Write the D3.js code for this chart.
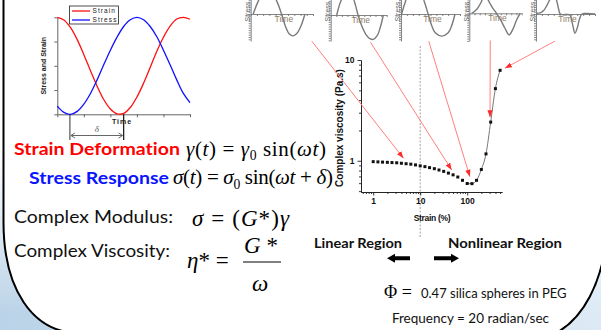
<!DOCTYPE html>
<html><head><meta charset="utf-8">
<script src="https://cdn.jsdelivr.net/npm/d3@7"></script>
<style>html,body{margin:0;padding:0;background:#fff;overflow:hidden} text{font-variant-ligatures:none}</style>
</head><body><svg id="c" width="601" height="330"></svg>
<script>
// ---------- DATA ----------
// inset: oscillatory strain / stress vs time
const insetTime   = [0,0.5,1,1.5,2,2.5,3,3.5,4,4.5,5,5.5,6,6.5,7,7.5,8,8.5,9,9.5,10];
const insetStrain = [1,0.945,0.785,0.54,0.23,-0.1,-0.42,-0.695,-0.89,-0.99,-0.98,-0.86,-0.645,-0.36,-0.035,0.3,0.59,0.82,0.965,0.998,0.96];
const insetStress = [-0.83,-0.96,-1.0,-0.94,-0.79,-0.57,-0.29,0.02,0.32,0.59,0.81,0.95,1.0,0.95,0.81,0.6,0.32,0.02,-0.29,-0.57,-0.76];
const insetYTicks = [-1,-0.5,0,0.5,1];
const insetXTicks = [0,2,4,6,8,10];
const deltaSpan   = [0.95,5.0];
const insetLegend = ["Strain","Stress"];

// main chart: complex viscosity vs strain amplitude
const strainPct = [1,1.26,1.58,2,2.51,3.16,3.98,5.01,6.31,7.94,10,12.6,15.8,20,25.1,31.6,39.8,50.1,63.1,79.4,100,126,158,200,251,316,398,501];
const viscosity = [0.98,0.975,0.97,0.965,0.96,0.955,0.945,0.935,0.925,0.91,0.89,0.875,0.855,0.835,0.81,0.785,0.755,0.725,0.69,0.64,0.595,0.593,0.64,0.82,1.17,2.42,5.2,7.9];
const xTickLabels = [1,10,100];
const yTickLabels = [1,10];
const linearLimit = 10;

// stress waveforms of the thumbnails [time, stress]
const wave1 = [[0.4,0],[1.2,0.55],[2,0.92],[2.7,1],[3.4,0.9],[4.2,0.55],[4.95,0],[5.6,-0.55],[6.2,-0.87],[6.8,-0.95],[7.4,-0.85],[8.1,-0.5],[8.7,0]];
const wave2 = [[1.07,0],[1.8,0.6],[2.6,0.95],[3.2,1.0],[3.9,0.8],[4.4,0.45],[4.88,0],[5.5,-0.45],[6.3,-0.85],[7.0,-1.03],[7.6,-1.06],[8.3,-0.9],[8.9,-0.5],[9.4,0]];
const wave3 = [[0.1,0],[0.7,0.5],[1.3,0.88],[2.35,1.05],[3.4,0.88],[4.0,0.5],[4.6,0],[5.2,-0.5],[5.8,-0.82],[6.9,-0.96],[8.0,-0.82],[8.6,-0.5],[9.15,0]];
const wave4 = [[0.45,0],[1.2,0.12],[1.7,0.26],[2.3,0.5],[2.7,0.75],[3.1,0.85],[3.6,0.58],[4.4,0.25],[5.2,0],[6.0,-0.3],[6.8,-0.65],[7.6,-0.94],[8.3,-0.7],[9.0,-0.3],[9.7,0]];
const wave5 = [[0,0.03],[0.7,0.05],[1.3,0.15],[1.9,0.4],[2.4,0.65],[2.9,0.8],[3.4,0.65],[3.8,0.25],[4.1,0],[4.6,-0.03],[5.3,-0.02],[5.8,-0.06],[6.2,-0.45],[6.6,-0.84],[7.0,-0.6],[7.4,-0.2],[7.8,0],[8.5,0.02],[10,0]];
const waves = [wave1,wave2,wave3,wave4,wave5];

// arrows: from thumbnail (index, time) to a point on the viscosity plot (strain, viscosity)
const arrowFrom = [[0,9.8],[1,7.1],[2,4.7],[3,4.0],[4,3.2]];
const arrowTo   = [[4.4,1.06],[46.8,0.81],[114,0.695],[306,2.7],[636,8.3]];

// ---------- DRAW ----------
const svg = d3.select("#c");
const defs = svg.append("defs");
const gH = defs.append("linearGradient").attr("id","gh").attr("x1","0").attr("x2","1").attr("y1","0").attr("y2","0");
gH.append("stop").attr("offset","0").attr("stop-color","#b3cee5");
gH.append("stop").attr("offset","1").attr("stop-color","#d9e8f4");
const gV = defs.append("linearGradient").attr("id","gv").attr("x1","0").attr("x2","0").attr("y1","0").attr("y2","1");
gV.append("stop").attr("offset","0.45").attr("stop-color","#fff").attr("stop-opacity",1);
gV.append("stop").attr("offset","0.95").attr("stop-color","#fff").attr("stop-opacity",0.1);
defs.append("marker").attr("id","rh").attr("viewBox","0 0 8 6").attr("refX",8).attr("refY",3)
  .attr("markerWidth",7).attr("markerHeight",5.5).attr("markerUnits","userSpaceOnUse").attr("orient","auto")
  .append("path").attr("d","M0,0L8,3L0,6Z").attr("fill","#ff2a2a");

svg.append("rect").attr("width",601).attr("height",330).attr("fill","url(#gh)");
svg.append("rect").attr("width",601).attr("height",330).attr("fill","url(#gv)");
svg.append("path")
  .attr("d","M3.5,-5 L3.5,222 C3.5,290 33,331 76,333 L556,333 C584,318 601,283 607,238 L607,-5 Z")
  .attr("fill","#fff").attr("stroke","#000").attr("stroke-width",2);

const SANS = "'Liberation Sans', Arial, sans-serif";
const CAL = "Lato, 'Open Sans', sans-serif";
const SERIF = "'Liberation Serif', 'Times New Roman', serif";

// ---- inset chart ----
const ix = d3.scaleLinear().domain([0,10]).range([57.3,190]);
const iy = d3.scaleLinear().domain([-1,1]).range([114.3,17.3]);
const gi = svg.append("g");
const axL = gi.append("g").attr("transform",`translate(${ix(0)},0)`)
  .call(d3.axisLeft(iy).tickValues(insetYTicks).tickSize(3).tickSizeOuter(0).tickFormat(""));
const axB = gi.append("g").attr("transform",`translate(0,${iy(-1)})`)
  .call(d3.axisBottom(ix).tickValues(insetXTicks).tickSize(3).tickSizeOuter(0).tickFormat(""));
[axL,axB].forEach(a=>{a.selectAll("path,line").attr("stroke","#666").attr("stroke-width",1);});
const iline = d3.line().curve(d3.curveCatmullRom).x((d,i)=>ix(insetTime[i])).y(d=>iy(d));
gi.append("path").datum(insetStrain).attr("d",iline).attr("fill","none").attr("stroke","#ff1010").attr("stroke-width",1.3);
gi.append("path").datum(insetStress).attr("d",iline).attr("fill","none").attr("stroke","#1010ff").attr("stroke-width",1.3);
// legend
gi.append("rect").attr("x",69.5).attr("y",6).attr("width",49).attr("height",18).attr("fill","#fff").attr("stroke","#222").attr("stroke-width",0.8);
const legCol = ["#ff1010","#1010ff"];
insetLegend.forEach((t,i)=>{
  const yy = 11 + i*9;
  gi.append("line").attr("x1",72).attr("x2",90).attr("y1",yy).attr("y2",yy).attr("stroke",legCol[i]).attr("stroke-width",1.3);
  gi.append("text").attr("x",92.5).attr("y",yy+2.4).text(t).attr("font-family",SANS).attr("font-size",6.5)
    .attr("letter-spacing",1.1).attr("fill","#222");
});
gi.append("text").attr("transform",`translate(46,${iy(0)}) rotate(-90)`).attr("text-anchor","middle")
  .text("Stress and Strain").attr("font-family",SANS).attr("font-weight","bold").attr("font-size",7).attr("fill","#222");
gi.append("text").attr("x",122).attr("y",124).attr("text-anchor","middle").text("Time")
  .attr("font-family",SANS).attr("font-weight","bold").attr("font-size",7).attr("letter-spacing",1).attr("fill","#222");
// delta annotation
const dA = ix(deltaSpan[0]), dB = ix(deltaSpan[1]);
gi.append("line").attr("x1",dA).attr("x2",dA).attr("y1",iy(-1)).attr("y2",140).attr("stroke","#333").attr("stroke-width",1);
gi.append("line").attr("x1",dB).attr("x2",dB).attr("y1",iy(-1)).attr("y2",140).attr("stroke","#222").attr("stroke-width",1.3);
gi.append("line").attr("x1",dA+1).attr("x2",dB-1).attr("y1",135.5).attr("y2",135.5).attr("stroke","#666").attr("stroke-width",1);
gi.append("path").attr("d",`M${dA+5},133 L${dA+1},135.5 L${dA+5},138 M${dB-5},133 L${dB-1},135.5 L${dB-5},138`)
  .attr("fill","none").attr("stroke","#666").attr("stroke-width",1);
gi.append("text").attr("x",(dA+dB)/2).attr("y",132).attr("text-anchor","middle").text("δ")
  .attr("font-family",SERIF).attr("font-style","italic").attr("font-size",9).attr("fill","#555");

// ---- thumbnails ----
const thumbs = [{x0:250.7,x1:313,y0:14},{x0:330.7,x1:386.7,y0:15},{x0:401,x1:460,y0:14},{x0:469.3,x1:521.7,y0:13.3},{x0:536,x1:595,y0:14}];
const thumbScales = thumbs.map(t=>({
  x: d3.scaleLinear().domain([0,10]).range([t.x0,t.x1]),
  y: d3.scaleLinear().domain([0,1]).range([t.y0,t.y0-23])
}));
thumbs.forEach((t,i)=>{
  const g = svg.append("g");
  const sx = thumbScales[i].x, sy = thumbScales[i].y;
  const yAx = d3.scaleLinear().domain([sy.invert(41),sy.invert(-2)]).range([41,-2]);
  g.append("g").attr("transform",`translate(${t.x0},0)`)
    .call(d3.axisLeft(yAx).ticks(18).tickSize(2).tickSizeOuter(0).tickFormat(""))
    .call(a=>a.selectAll("path,line").attr("stroke","#777").attr("stroke-width",0.9));
  g.append("g").attr("transform",`translate(0,${t.y0})`)
    .call(d3.axisBottom(sx).ticks(10).tickSize(2).tickSizeOuter(0).tickFormat(""))
    .call(a=>a.selectAll("path,line").attr("stroke","#777").attr("stroke-width",0.9));
  g.append("path").datum(waves[i])
    .attr("d",d3.line().curve(d3.curveCatmullRom).x(d=>sx(d[0])).y(d=>sy(d[1])))
    .attr("fill","none").attr("stroke","#7a7a7a").attr("stroke-width",1.4);
  g.append("text").attr("transform",`translate(${t.x0-0.8},21.5) rotate(-90)`).text("Stress")
    .attr("font-family",SANS).attr("font-size",7).attr("fill","#666");
  g.append("text").attr("x",(t.x0+t.x1)/2+2).attr("y",t.y0+8).attr("text-anchor","middle").text("Time")
    .attr("font-family",SANS).attr("font-size",8.5).attr("fill","#8c7c6c");
});

// ---- main chart ----
const x = d3.scaleLog().domain([0.55,550]).range([361,502]);
const y = d3.scaleLog().domain([0.49,10]).range([192,60]);
const gm = svg.append("g");
// dashed boundary of linear region
gm.append("line").attr("x1",x(linearLimit)).attr("x2",x(linearLimit)).attr("y1",46).attr("y2",238)
  .attr("stroke","#a0a0a0").attr("stroke-width",1).attr("stroke-dasharray","2,1.5");
const xMinor = x.ticks().filter(v=>!xTickLabels.includes(v));
const yMinor = y.ticks().filter(v=>!yTickLabels.includes(v));
gm.append("g").attr("transform","translate(0,192)")
  .call(d3.axisBottom(x).tickValues(xMinor).tickSize(2).tickSizeOuter(0).tickFormat(""));
gm.append("g").attr("transform","translate(0,192)")
  .call(d3.axisBottom(x).tickValues(xTickLabels).tickSize(3.5).tickSizeOuter(0).tickFormat(d3.format("d")))
  .call(a=>a.selectAll("text").attr("font-family",SANS).attr("font-weight","bold").attr("font-size",8.5).attr("dy","0.62em").attr("fill","#111"));
gm.append("g").attr("transform","translate(361,0)")
  .call(d3.axisLeft(y).tickValues(yMinor).tickSize(2).tickSizeOuter(0).tickFormat(""));
gm.append("g").attr("transform","translate(361,0)")
  .call(d3.axisLeft(y).tickValues(yTickLabels).tickSize(3.5).tickSizeOuter(0).tickFormat(d3.format("d")))
  .call(a=>a.selectAll("text").attr("font-family",SANS).attr("font-weight","bold").attr("font-size",8.5).attr("fill","#111"));
gm.selectAll(".domain,.tick line").attr("stroke","#222").attr("stroke-width",0.9);
// connecting line in the nonlinear branch
const minIdx = strainPct.indexOf(100);
gm.append("path").datum(strainPct.map((s,i)=>[s,viscosity[i]]).slice(minIdx))
  .attr("d",d3.line().curve(d3.curveMonotoneX).x(d=>x(d[0])).y(d=>y(d[1])))
  .attr("fill","none").attr("stroke","#555").attr("stroke-width",0.8);
gm.selectAll("rect.pt").data(strainPct).join("rect").attr("class","pt")
  .attr("x",d=>x(d)-1.5).attr("y",(d,i)=>y(viscosity[i])-1.5).attr("width",3).attr("height",3).attr("fill","#111");
gm.append("text").attr("transform","translate(343,128) rotate(-90)").attr("text-anchor","middle")
  .text("Complex viscosity (Pa.s)").attr("font-family",SANS).attr("font-weight","bold").attr("font-size",10).attr("fill","#111");
gm.append("text").attr("x",432).attr("y",221).attr("text-anchor","middle").text("Strain (%)")
  .attr("font-family",SANS).attr("font-weight","bold").attr("font-size",8.5).attr("letter-spacing",-0.3).attr("fill","#111");

// ---- red arrows ----
arrowFrom.forEach((f,i)=>{
  const ts = thumbScales[f[0]];
  const x1 = ts.x(f[1]), y1 = ts.y(-1.18);
  const x2 = x(arrowTo[i][0]), y2 = y(arrowTo[i][1]);
  svg.append("line").attr("x1",x1).attr("y1",y1).attr("x2",x2).attr("y2",y2)
    .attr("stroke","#ff8080").attr("stroke-width",1).attr("marker-end","url(#rh)");
});

// ---- text block ----
function eq(xp, yp, size, parts, len){
  const t = svg.append("text").attr("x",xp).attr("y",yp).attr("font-family",SERIF).attr("font-size",size).attr("fill","#000");
  let sub=false;
  parts.forEach(p=>{
    const s = t.append("tspan").text(p.t);
    if(p.i) s.attr("font-style","italic");
    if(p.sub){ s.attr("font-size",size*0.65).attr("dy",size*0.22); sub=true; }
    else if(sub){ s.attr("dy",-size*0.22); sub=false; }
  });
  if(len) t.attr("textLength",len).attr("lengthAdjust","spacing");
  return t;
}
svg.append("text").attr("x",14).attr("y",155).text("Strain Deformation").attr("font-family",CAL).attr("font-weight","bold")
  .attr("font-size",17.5).attr("fill","#ff0000").attr("textLength",166).attr("lengthAdjust","spacingAndGlyphs");
svg.append("text").attr("x",29).attr("y",183.5).text("Stress Response").attr("font-family",CAL).attr("font-weight","bold")
  .attr("font-size",17.5).attr("fill","#0a14ff").attr("textLength",140).attr("lengthAdjust","spacingAndGlyphs");
eq(186,155.5,21,[{t:"γ",i:1},{t:"("},{t:"t",i:1},{t:") = "},{t:"γ",i:1},{t:"0",sub:1},{t:" sin("},{t:"ωt",i:1},{t:")"}],140);
eq(173,184,21,[{t:"σ",i:1},{t:"("},{t:"t",i:1},{t:") = "},{t:"σ",i:1},{t:"0",sub:1},{t:" sin("},{t:"ωt",i:1},{t:" + "},{t:"δ",i:1},{t:")"}],160);
svg.append("text").attr("x",14).attr("y",223).text("Complex Modulus:").attr("font-family",CAL)
  .attr("font-size",17.5).attr("fill","#111").attr("textLength",159).attr("lengthAdjust","spacingAndGlyphs");
svg.append("text").attr("x",14).attr("y",257).text("Complex Viscosity:").attr("font-family",CAL)
  .attr("font-size",17.5).attr("fill","#111").attr("textLength",156).attr("lengthAdjust","spacingAndGlyphs");
eq(192,226,23,[{t:"σ",i:1},{t:" = ("},{t:"G",i:1},{t:"*)"},{t:"γ",i:1}],97);
eq(187,268,23,[{t:"η",i:1},{t:"* ="}]);
eq(244,253,23,[{t:"G",i:1},{t:" *"}]);
svg.append("line").attr("x1",243).attr("x2",281).attr("y1",262).attr("y2",262).attr("stroke","#000").attr("stroke-width",1);
eq(252,291,23,[{t:"ω",i:1}]);

svg.append("text").attr("x",314).attr("y",248).text("Linear Region").attr("font-family",CAL).attr("font-weight","bold")
  .attr("font-size",13).attr("fill","#111").attr("textLength",88).attr("lengthAdjust","spacingAndGlyphs");
svg.append("text").attr("x",448).attr("y",248).text("Nonlinear Region").attr("font-family",CAL).attr("font-weight","bold")
  .attr("font-size",13).attr("fill","#111").attr("textLength",114).attr("lengthAdjust","spacingAndGlyphs");
// block arrows
svg.append("path").attr("d","M387,258.3 L395,253.8 L395,256.3 L410,256.3 L410,260.3 L395,260.3 L395,262.8 Z").attr("fill","#000");
svg.append("path").attr("d","M459,258.3 L451,253.8 L451,256.3 L434,256.3 L434,260.3 L451,260.3 L451,262.8 Z").attr("fill","#000");

eq(384,298,18,[{t:"Φ ="}]);
svg.append("text").attr("x",421).attr("y",298).text("0.47 silica spheres in PEG")
  .attr("font-family",CAL).attr("font-size",13).attr("fill","#111");
svg.append("text").attr("x",549).attr("y",323).attr("text-anchor","end").text("Frequency = 20 radian/sec")
  .attr("font-family",CAL).attr("font-size",13.5).attr("fill","#111");
</script></body></html>
